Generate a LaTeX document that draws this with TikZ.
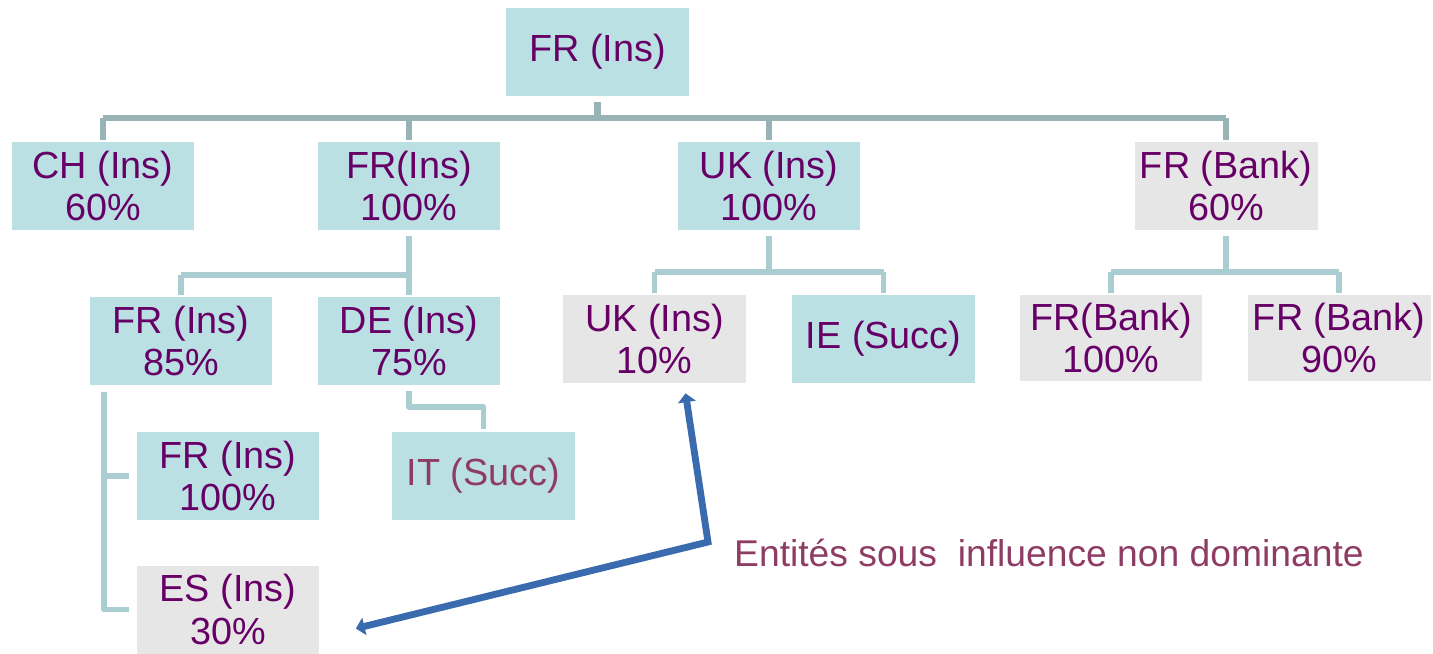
\documentclass[tikz,border=0pt]{standalone}
\usepackage{fontspec}
\setmainfont{Liberation Sans}
\usetikzlibrary{arrows.meta,calc}

\definecolor{boxteal}{HTML}{BBE0E3}
\definecolor{boxgrey}{HTML}{E6E6E6}
\definecolor{txtpurple}{HTML}{660066}
\definecolor{txtrose}{HTML}{8E3C64}
\definecolor{busdark}{HTML}{97B3B6}
\definecolor{buslight}{HTML}{A9CDD0}
\definecolor{arrowblue}{HTML}{3B6BAF}

\begin{document}
\begin{tikzpicture}[x=0.02cm, y=-0.02cm,
    entity/.style={fill=boxteal, text=txtpurple, minimum width=3.66cm, minimum height=1.76cm,
        inner sep=0pt, align=center, font=\fontsize{21.5}{24}\selectfont},
    minor/.style={entity, fill=boxgrey},
    bus/.style={draw=buslight, line width=3.4pt, line join=round},
    topbus/.style={bus, draw=busdark, line width=3.8pt}]
    \useasboundingbox (0,0) rectangle (1433,653);

    % racine
    \node[entity] (top) at (597.5,52) {FR (Ins)};

    % premier niveau
    \node[entity] (ch) at (103,186) {CH (Ins)\\60\%};
    \node[entity] (fr1) at (409,186) {FR(Ins)\\100\%};
    \node[entity] (uk1) at (769,186) {UK (Ins)\\100\%};
    \node[minor] (bank1) at (1226,186) {FR (Bank)\\60\%};

    % second niveau
    \node[entity] (fr2) at (181,341) {FR (Ins)\\85\%};
    \node[entity] (de) at (409,341) {DE (Ins)\\75\%};
    \node[minor] (uk2) at (654.5,339) {UK (Ins)\\10\%};
    \node[entity] (ie) at (883.5,339) {IE (Succ)};
    \node[minor, minimum height=1.72cm] (bank2) at (1111,338) {FR(Bank)\\100\%};
    \node[minor, minimum height=1.72cm] (bank3) at (1339,338) {FR (Bank)\\90\%};

    % troisieme niveau
    \node[entity] (fr3) at (228,476) {FR (Ins)\\100\%};
    \node[entity, text=txtrose] (it) at (483.5,476) {IT (Succ)};
    \node[minor] (es) at (228,609.5) {ES (Ins)\\30\%};

    % liaisons racine
    \draw[topbus] ($(top.south)+(0,6)$) -- (top.south |- 0,118);
    \draw[topbus] (ch.north |- 0,118) -- (bank1.north |- 0,118);
    \foreach \n in {ch,fr1,uk1,bank1}
        \draw[topbus] (\n.north |- 0,118) -- ($(\n.north)+(0,-2)$);

    % liaisons second niveau
    \draw[bus] ($(fr1.south)+(0,6)$) -- (fr1.south |- 0,275);
    \draw[bus] (fr2.north |- 0,275) -- (fr1.south |- 0,275);
    \draw[bus] (fr2.north |- 0,275) -- ($(fr2.north)+(0,-2)$);
    \draw[bus] (fr1.south |- 0,275) -- ($(de.north)+(0,-2)$);

    \draw[bus] ($(uk1.south)+(0,6)$) -- (uk1.south |- 0,272);
    \draw[bus] (uk2.north |- 0,272) -- (ie.north |- 0,272);
    \draw[bus] (uk2.north |- 0,272) -- ($(uk2.north)+(0,-2)$);
    \draw[bus] (ie.north |- 0,272) -- ($(ie.north)+(0,-2)$);

    \draw[bus] ($(bank1.south)+(0,6)$) -- (bank1.south |- 0,272);
    \draw[bus] (bank2.north |- 0,272) -- (bank3.north |- 0,272);
    \draw[bus] (bank2.north |- 0,272) -- ($(bank2.north)+(0,-2)$);
    \draw[bus] (bank3.north |- 0,272) -- ($(bank3.north)+(0,-2)$);

    % liaisons troisieme niveau
    \draw[bus] ($(fr2.south west)+(15,7)$) |- ($(es.west)+(-7,0)$);
    \draw[bus] (105,476) -- ($(fr3.west)+(-7,0)$);
    \draw[bus] ($(de.south)+(0,6)$) |- (483.5,407) -- ($(it.north)+(0,-3)$);

    % legende
    \node[text=txtrose, anchor=west, font=\fontsize{21.2}{23}\selectfont] (lbl) at (728,553)
        {Entités sous\ \ influence non dominante};
    \coordinate (tipA) at ($(uk2.south)+(31,10)$);
    \coordinate (knee) at ($(lbl.west)+(-20,-11)$);
    \coordinate (tipB) at ($(es.east)+(36,19)$);
    \draw[arrowblue, line width=3.9pt, line join=miter,
        {Triangle[length=5pt,width=10pt]}-{Triangle[length=5pt,width=10pt]}]
        (tipA) -- (knee) -- (tipB);
\end{tikzpicture}
\end{document}
